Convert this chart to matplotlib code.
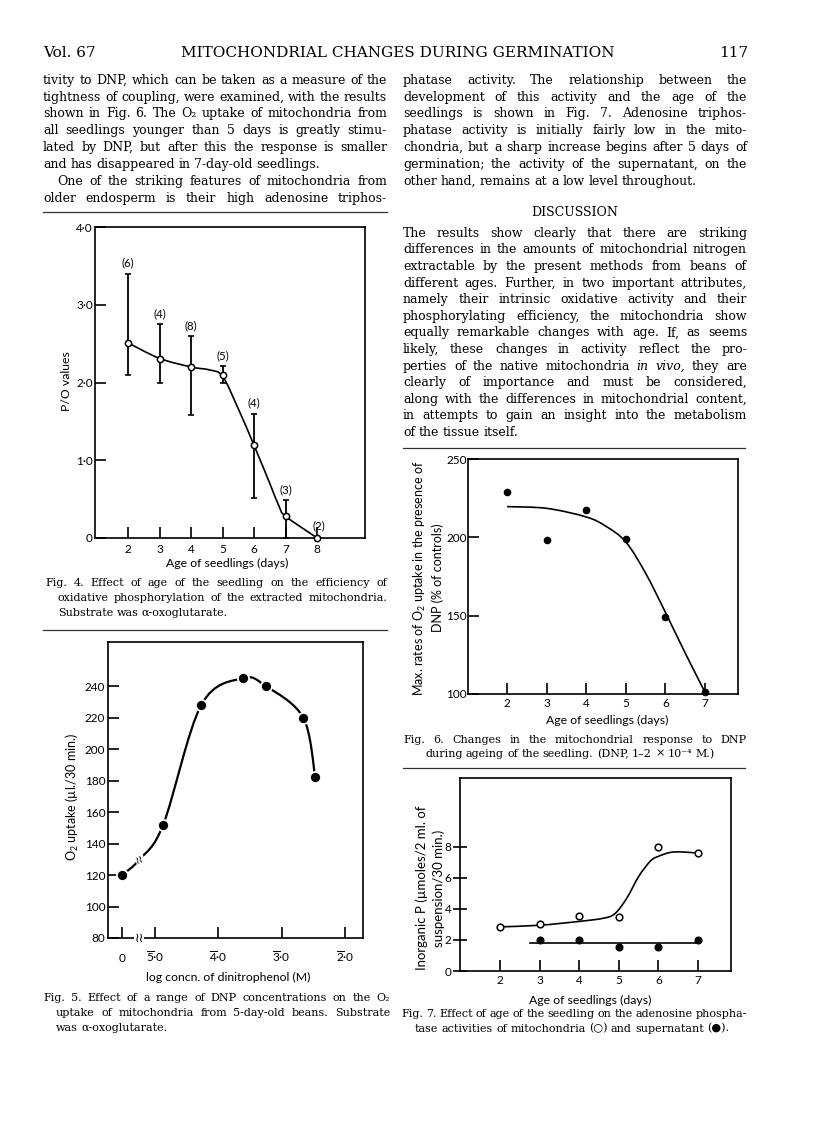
import numpy as np
import matplotlib
matplotlib.use('Agg')
import matplotlib.pyplot as plt
from matplotlib.path import Path
from matplotlib.patches import PathPatch

W, H = 816, 1138
SERIF = ['DejaVu Serif', 'DejaVu Sans']
plt.rcParams['font.family'] = ['Lato', 'DejaVu Sans']
plt.rcParams['mathtext.fontset'] = 'custom'
plt.rcParams['mathtext.rm'] = 'Lato'
plt.rcParams['mathtext.it'] = 'Lato:italic'
plt.rcParams['axes.linewidth'] = 1.1

# Fig. 4 - P/O values against age of seedling
age4 = [2, 3, 4, 5, 6, 7, 8]
po_mean = [2.51, 2.30, 2.20, 2.10, 1.19, 0.28, 0.0]
po_low = [2.10, 2.00, 1.58, 2.00, 0.51, 0.0, 0.0]
po_high = [3.40, 2.75, 2.60, 2.21, 1.60, 0.49, 0.0]
po_n = ['(6)', '(4)', '(8)', '(5)', '(4)', '(3)', '(2)']
curve4_x = [2, 3, 4, 4.6, 5, 5.5, 6, 6.5, 6.8, 7, 8]
curve4_y = [2.51, 2.31, 2.2, 2.16, 2.08, 1.66, 1.19, 0.7, 0.4, 0.28, 0.0]

# Fig. 5 - O2 uptake against log DNP concentration (control has no DNP)
control_uptake = 120
dnp_log = [-4.87, -4.27, -3.61, -3.25, -2.66, -2.47]
dnp_uptake = [152, 228, 245, 240, 220, 182]
ZERO = -5.52  # where the "0" (no DNP) point sits on the broken axis
curve5_x = [ZERO, -5.24, -4.87, -4.27, -3.61, -3.25, -2.66, -2.47]
curve5_y = [120, 130, 152, 228, 245, 240, 220, 182]
dnp_ticks = [ZERO, -5, -4, -3, -2]
dnp_ticklabels = ['0', '$\\overline{5}$\u00b70', '$\\overline{4}$\u00b70',
                  '$\\overline{3}$\u00b70', '$\\overline{2}$\u00b70']

# Fig. 6 - response to DNP against age
age6 = [2, 3, 4, 5, 6, 7]
dnp_rate = [229, 198, 217.5, 199, 149, 101]
curve6_x = [2, 3, 4, 4.5, 5, 5.5, 6, 6.5, 7]
curve6_y = [219.6, 218.5, 213, 207, 197, 177, 152, 126, 101]

# Fig. 7 - ATPase of mitochondria (open) and supernatant (filled)
age7 = [2, 3, 4, 5, 6, 7]
mito_p = [2.85, 3.0, 3.55, 3.5, 8.0, 7.6]
super_age = [3, 4, 5, 6, 7]
super_p = [2.0, 2.0, 1.55, 1.55, 2.0]
curve7_x = [2, 3, 4, 4.6, 4.9, 5.2, 5.5, 5.8, 6.0, 6.3, 6.6, 7]
curve7_y = [2.85, 2.95, 3.2, 3.4, 3.7, 4.7, 6.1, 7.1, 7.4, 7.65, 7.68, 7.6]
super_line_x = [2.75, 7]
super_line_y = [1.8, 1.8]

left_text = [
    "tivity to DNP, which can be taken as a measure of the",
    "tightness of coupling, were examined, with the results",
    "shown in Fig. 6. The O\u2082 uptake of mitochondria from",
    "all seedlings younger than 5 days is greatly stimu-",
    "lated by DNP, but after this the response is smaller",
    "and has disappeared in 7-day-old seedlings.",
    "One of the striking features of mitochondria from",
    "older endosperm is their high adenosine triphos-",
]
right_text = [
    "phatase activity. The relationship between the",
    "development of this activity and the age of the",
    "seedlings is shown in Fig. 7. Adenosine triphos-",
    "phatase activity is initially fairly low in the mito-",
    "chondria, but a sharp increase begins after 5 days of",
    "germination; the activity of the supernatant, on the",
    "other hand, remains at a low level throughout.",
]
discussion = [
    "The results show clearly that there are striking",
    "differences in the amounts of mitochondrial nitrogen",
    "extractable by the present methods from beans of",
    "different ages. Further, in two important attributes,",
    "namely their intrinsic oxidative activity and their",
    "phosphorylating efficiency, the mitochondria show",
    "equally remarkable changes with age. If, as seems",
    "likely, these changes in activity reflect the pro-",
    "perties of the native mitochondria in vivo, they are",
    "clearly of importance and must be considered,",
    "along with the differences in mitochondrial content,",
    "in attempts to gain an insight into the metabolism",
    "of the tissue itself.",
]
cap4 = ["Fig. 4.  Effect of age of the seedling on the efficiency of",
        "oxidative phosphorylation of the extracted mitochondria.",
        "Substrate was \u03b1-oxoglutarate."]
cap5 = ["Fig. 5.  Effect of a range of DNP concentrations on the O\u2082",
        "uptake of mitochondria from 5-day-old beans.  Substrate",
        "was \u03b1-oxoglutarate."]
cap6 = ["Fig. 6.  Changes in the mitochondrial response to DNP",
        "during ageing of the seedling.  (DNP, 1\u20132 \u00d7 10\u207b\u2074\u2009M.)"]
cap7 = ["Fig. 7.  Effect of age of the seedling on the adenosine phospha-",
        "tase activities of mitochondria (\u25cb) and supernatant (\u25cf)."]


def axes_px(fig, x0, y0, x1, y1):
    return fig.add_axes([x0 / W, 1 - y1 / H, (x1 - x0) / W, (y1 - y0) / H])


def smooth(ax, xs, ys, **kw):
    # smooth pen line through the points (Catmull-Rom as Beziers)
    p = np.column_stack([xs, ys]).astype(float)
    verts, codes = [p[0]], [Path.MOVETO]
    for i in range(len(p) - 1):
        p0 = p[i - 1] if i > 0 else p[i]
        p3 = p[i + 2] if i + 2 < len(p) else p[i + 1]
        verts += [p[i] + (p[i + 1] - p0) / 6, p[i + 1] - (p3 - p[i]) / 6, p[i + 1]]
        codes += [Path.CURVE4] * 3
    ax.add_patch(PathPatch(Path(verts, codes), fill=False, **kw))


def text_line(fig, r, s, x0, x1, y, size, justify=True, italic=(), family=SERIF):
    words = s.split()
    ts, ws = [], []
    for i, w in enumerate(words):
        t = fig.text(0, 0, w, fontsize=size, family=family, va='baseline',
                     style='italic' if i in italic else 'normal')
        ts.append(t)
        ws.append(t.get_window_extent(renderer=r).width)
    em = size * 100 / 72
    total = sum(ws)
    gap = 0.3 * em
    if justify and len(words) > 1:
        gap = (x1 - x0 - total) / (len(words) - 1)
        if gap < 0.2 * em:
            k = (x1 - x0 - 0.2 * em * (len(words) - 1)) / total
            for t in ts:
                t.set_fontsize(size * k)
            ws = [w * k for w in ws]
            gap = 0.2 * em
    x = x0
    for t, w in zip(ts, ws):
        t.set_position((x / W, 1 - (y + 0.3 * em) / H))
        x += w + gap


def block(fig, r, lines, x0, x1, y0, dy, size, indents=None, last_left=True, italic=None):
    for i, s in enumerate(lines):
        ind = indents[i] if indents else 0
        just = not (last_left and i == len(lines) - 1)
        it = italic.get(i, ()) if italic else ()
        text_line(fig, r, s, x0 + ind, x1, y0 + i * dy, size, justify=just, italic=it)


def rule(fig, x0, x1, y):
    fig.add_artist(plt.Line2D([x0 / W, x1 / W], [1 - y / H, 1 - y / H], color='#333333', lw=0.9))


def ftext(fig, x, y, s, **kw):
    fig.text(x / W, 1 - y / H, s, **kw)


def style_axes(ax, pad_x, pad_y, ydir='in'):
    ax.tick_params(axis='x', direction='in', length=8, width=1.2, labelsize=8.5, pad=pad_x)
    ax.tick_params(axis='y', direction=ydir, length=8 if ydir == 'in' else 10,
                   width=1.2, labelsize=8.5, pad=pad_y)
    for sp in ax.spines.values():
        sp.set_linewidth(1.2)


fig = plt.figure(figsize=(W / 100, H / 100), dpi=100)
r = fig.canvas.get_renderer()

# running head
ftext(fig, 43, 57, "Vol. 67", fontsize=11, family=SERIF, va='baseline')
ftext(fig, 398, 57, "MITOCHONDRIAL CHANGES DURING GERMINATION", fontsize=11,
      family=SERIF, va='baseline', ha='center')
ftext(fig, 748, 57, "117", fontsize=11, family=SERIF, va='baseline', ha='right')

BODY = 9.0
LX0, LX1 = 43, 387
RX0, RX1 = 403, 747
block(fig, r, left_text[:6], LX0, LX1, 80, 16.8, BODY)
block(fig, r, left_text[6:], LX0, LX1, 181, 16.8, BODY, indents=[14, 0], last_left=False)
block(fig, r, right_text, RX0, RX1, 80, 16.8, BODY)
ftext(fig, (RX0 + RX1) / 2, 212, "DISCUSSION", fontsize=9, family=SERIF, ha='center', va='center')
block(fig, r, discussion, RX0, RX1, 233, 16.6, BODY, italic={8: (5, 6)})
rule(fig, LX0, LX1, 212)
rule(fig, RX0, RX1 - 2, 448)

CAP = 8.0
# ---------- Fig. 4
ax4 = axes_px(fig, 95, 227, 365, 538)
ax4.set_xlim(0.95, 9.52)
ax4.set_ylim(0, 4)
smooth(ax4, curve4_x, curve4_y, color='k', lw=1.2, zorder=3)
m = np.array(po_mean[:-1])
ax4.errorbar(age4[:-1], m, yerr=[m - np.array(po_low[:-1]), np.array(po_high[:-1]) - m],
             fmt='none', ecolor='k', elinewidth=1.3, capsize=2.5, capthick=1.2, zorder=4)
ax4.plot(age4, po_mean, 'o', ms=4.5, mfc='white', mec='k', mew=1.1, clip_on=False, zorder=5)
for x, top, lab in zip(age4, po_high, po_n):
    ax4.annotate(lab, (x, top), xytext=(1 if lab == '(2)' else 0, 7.5 if lab != '(2)' else 8.5),
                 textcoords='offset points', ha='center', va='center', fontsize=8.3)
ax4.set_xticks(age4)
ax4.set_yticks([0, 1, 2, 3, 4])
ax4.set_yticklabels(['0', '1\u00b70', '2\u00b70', '3\u00b70', '4\u00b70'])
style_axes(ax4, 4, 1.5)
ftext(fig, 67, 381, "P/O values", fontsize=8.8, rotation=90, ha='center', va='center')
ftext(fig, 227, 563, "Age of seedlings (days)", fontsize=8.8, ha='center', va='center')
block(fig, r, cap4, 45, LX1, 583, 14.6, CAP, indents=[0, 13, 13])
rule(fig, LX0, LX1, 630)

# ---------- Fig. 5
ax5 = axes_px(fig, 108, 642, 363, 938)
ax5.set_xlim(-5.742, -1.716)
ax5.set_ylim(80, 268)
smooth(ax5, curve5_x, curve5_y, color='k', lw=1.6, zorder=3)
ax5.plot([ZERO] + dnp_log, [control_uptake] + dnp_uptake, 'o', ms=8, mfc='k',
         mec='white', mew=1.3, zorder=5)
ax5.set_xticks(dnp_ticks)
ax5.set_xticklabels(dnp_ticklabels, va='baseline')
ax5.set_yticks(range(80, 241, 20))
style_axes(ax5, 17, 2)
brk = dict(fc='white', ec='none', pad=0.2)
ax5.text(-5.25, 80, '\u2240\u2240', ha='center', va='center', fontsize=9, bbox=brk,
         clip_on=False, zorder=6)
ax5.text(-5.24, 130, '\u2240\u2240', ha='center', va='center', fontsize=8, bbox=brk,
         rotation=20, zorder=6)
ftext(fig, 72, 797, "O$_2$ uptake (\u00b5l./30 min.)", fontsize=9, rotation=90,
      ha='center', va='center')
ftext(fig, 228, 977, "log concn. of dinitrophenol (M)", fontsize=8.8, ha='center', va='center')
block(fig, r, cap5, 43, 390, 998, 14.6, CAP, indents=[0, 13, 13])

# ---------- Fig. 6
ax6 = axes_px(fig, 468, 459, 738, 694)
ax6.set_xlim(1.015, 7.83)
ax6.set_ylim(100, 250)
smooth(ax6, curve6_x, curve6_y, color='k', lw=1.2, zorder=3)
ax6.plot(age6, dnp_rate, 'o', ms=4.5, color='k', clip_on=False, zorder=5)
ax6.set_xticks(age6)
ax6.set_yticks([100, 150, 200, 250])
style_axes(ax6, 3, 1)
ftext(fig, 428, 578, "Max. rates of O$_2$ uptake in the presence of\nDNP (% of controls)",
      fontsize=9, rotation=90, ha='center', va='center', linespacing=1.4)
ftext(fig, 607, 720, "Age of seedlings (days)", fontsize=8.8, ha='center', va='center')
block(fig, r, cap6, RX0, RX1, 740, 13.5, CAP, indents=[0, 22])
rule(fig, RX0, RX1 - 2, 768)

# ---------- Fig. 7
ax7 = axes_px(fig, 460, 778, 731, 971)
ax7.set_xlim(0.99, 7.83)
ax7.set_ylim(0, 12.45)
smooth(ax7, curve7_x, curve7_y, color='k', lw=1.2, zorder=3)
ax7.plot(super_line_x, super_line_y, color='k', lw=1.2, zorder=3)
ax7.plot(age7, mito_p, 'o', ms=4.8, mfc='white', mec='k', mew=1.1, zorder=5)
ax7.plot(super_age, super_p, 'o', ms=4.8, color='k', zorder=5)
ax7.set_xticks(age7)
ax7.set_yticks([0, 2, 4, 6, 8])
style_axes(ax7, 3, 1, ydir='inout')
ftext(fig, 430, 888, "Inorganic P (\u00b5moles/2 ml. of\nsuspension/30 min.)", fontsize=9.5,
      rotation=90, ha='center', va='center', linespacing=1.45)
ftext(fig, 590, 1000, "Age of seedlings (days)", fontsize=8.8, ha='center', va='center')
block(fig, r, cap7, 401, RX1, 1014, 14.2, CAP, indents=[0, 14])

fig.savefig('out.png', dpi=100)
